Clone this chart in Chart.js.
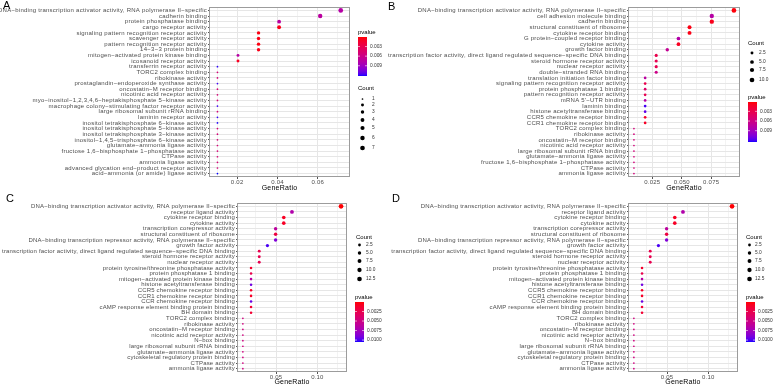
<!DOCTYPE html>
<html><head><meta charset="utf-8">
<script src="https://cdn.jsdelivr.net/npm/chart.js@4.4.0/dist/chart.umd.min.js"></script>
<style>
html,body{margin:0;padding:0;background:#fff;}
body{width:774px;height:386px;overflow:hidden;position:relative;font-family:"Liberation Sans",Arial,sans-serif;}
canvas{position:absolute;}
.letter{position:absolute;font-size:11px;line-height:11px;color:#000;}
</style></head>
<body>
<canvas id="cA" width="387" height="193" style="left:0;top:0"></canvas>
<canvas id="cB" width="387" height="193" style="left:387px;top:0"></canvas>
<canvas id="cC" width="387" height="193" style="left:0;top:193px"></canvas>
<canvas id="cD" width="387" height="193" style="left:387px;top:193px"></canvas>
<div class="letter" style="left:3px;top:0px">A</div>
<div class="letter" style="left:388px;top:1px">B</div>
<div class="letter" style="left:6px;top:193px">C</div>
<div class="letter" style="left:392px;top:193px">D</div>
<script>
// ---------------- DATA ----------------
const termsA = [
"DNA−binding transcription activator activity, RNA polymerase II−specific",
"cadherin binding","protein phosphatase binding","cargo receptor activity",
"signaling pattern recognition receptor activity","scavenger receptor activity",
"pattern recognition receptor activity","14−3−3 protein binding",
"mitogen−activated protein kinase binding","icosanoid receptor activity",
"transferrin receptor activity","TORC2 complex binding","ribokinase activity",
"prostaglandin−endoperoxide synthase activity","oncostatin−M receptor binding",
"nicotinic acid receptor activity","myo−inositol−1,2,3,4,6−heptakisphosphate 5−kinase activity",
"macrophage colony−stimulating factor receptor activity","large ribosomal subunit rRNA binding",
"laminin receptor activity","inositol tetrakisphosphate 6−kinase activity",
"inositol tetrakisphosphate 5−kinase activity","inositol tetrakisphosphate 3−kinase activity",
"inositol−1,4,5−trisphosphate 6−kinase activity","glutamate−ammonia ligase activity",
"fructose 1,6−bisphosphate 1−phosphatase activity","CTPase activity","ammonia ligase activity",
"advanced glycation end−product receptor activity","acid−ammonia (or amide) ligase activity"];
const countsA = [7,6,4,4,3,3,3,3,2,2,1,1,1,1,1,1,1,1,1,1,1,1,1,1,1,1,1,1,1,1];
const ratiosA = [0.0714,0.0612,0.0408,0.0408,0.0306,0.0306,0.0306,0.0306,0.0204,0.0204,
0.0102,0.0102,0.0102,0.0102,0.0102,0.0102,0.0102,0.0102,0.0102,0.0102,
0.0102,0.0102,0.0102,0.0102,0.0102,0.0102,0.0102,0.0102,0.0102,0.0102];
const pvalsA = [0.0076,0.0073,0.0074,0.0006,0.0004,0.0005,0.0004,0.0006,0.0075,0.0009,
0.0120,0.0051,0.0051,0.0118,0.0051,0.0051,0.0052,0.0118,0.0051,0.0119,
0.0121,0.0052,0.0052,0.0052,0.0051,0.0051,0.0051,0.0051,0.0052,0.0122];
const xMajorA = [0.02,0.04,0.06], xLabelsA = ["0.02","0.04","0.06"], xMinorA = [0.01,0.03,0.05,0.07];
const countBreaksA = [1,2,3,4,5,6,7], countLabelsA = ["1","2","3","4","5","6","7"];
const pBreaksA = [0.003,0.006,0.009], pLabelsA = ["0.003","0.006","0.009"];

const termsB = [
"DNA−binding transcription activator activity, RNA polymerase II−specific",
"cell adhesion molecule binding","cadherin binding","structural constituent of ribosome",
"cytokine receptor binding","G protein−coupled receptor binding","cytokine activity",
"growth factor binding","transcription factor activity, direct ligand regulated sequence−specific DNA binding",
"steroid hormone receptor activity","nuclear receptor activity","double−stranded RNA binding",
"translation initiation factor binding","signaling pattern recognition receptor activity",
"protein phosphatase 1 binding","pattern recognition receptor activity","mRNA 5'−UTR binding",
"laminin binding","histone acetyltransferase binding","CCR5 chemokine receptor binding",
"CCR1 chemokine receptor binding","TORC2 complex binding","ribokinase activity",
"oncostatin−M receptor binding","nicotinic acid receptor activity","large ribosomal subunit rRNA binding",
"glutamate−ammonia ligase activity","fructose 1,6−bisphosphate 1−phosphatase activity",
"CTPase activity","ammonia ligase activity"];
const countsB = [10,8,8,6,6,5,5,4,3,3,3,3,2,2,2,2,2,2,2,2,2,1,1,1,1,1,1,1,1,1];
const ratiosB = [0.0943,0.0755,0.0755,0.0566,0.0566,0.0472,0.0472,0.0377,0.0283,0.0283,0.0283,0.0283,
0.0189,0.0189,0.0189,0.0189,0.0189,0.0189,0.0189,0.0189,0.0189,
0.0094,0.0094,0.0094,0.0094,0.0094,0.0094,0.0094,0.0094,0.0094];
const pvalsB = [0.0003,0.0078,0.0008,0.0005,0.0006,0.0080,0.0010,0.0068,0.0030,0.0032,0.0032,0.0062,
0.0075,0.0030,0.0045,0.0032,0.0078,0.0120,0.0115,0.0012,0.0012,
0.0055,0.0055,0.0055,0.0055,0.0055,0.0055,0.0055,0.0055,0.0055];
const xMajorB = [0.025,0.05,0.075], xLabelsB = ["0.025","0.050","0.075"], xMinorB = [0.0125,0.0375,0.0625,0.0875];
const countBreaksB = [2.5,5,7.5,10], countLabelsB = ["2.5","5.0","7.5","10.0"];
const pBreaksB = [0.003,0.006,0.009], pLabelsB = ["0.003","0.006","0.009"];

const termsC = [
"DNA−binding transcription activator activity, RNA polymerase II−specific",
"receptor ligand activity","cytokine receptor binding","cytokine activity",
"transcription corepressor activity","structural constituent of ribosome",
"DNA−binding transcription repressor activity, RNA polymerase II−specific","growth factor activity",
"transcription factor activity, direct ligand regulated sequence−specific DNA binding",
"steroid hormone receptor activity","nuclear receptor activity",
"protein tyrosine/threonine phosphatase activity","protein phosphatase 1 binding",
"mitogen−activated protein kinase binding","histone acetyltransferase binding",
"CCR5 chemokine receptor binding","CCR1 chemokine receptor binding","CCR chemokine receptor binding",
"cAMP response element binding protein binding","BH domain binding","TORC2 complex binding",
"ribokinase activity","oncostatin−M receptor binding","nicotinic acid receptor activity","N−box binding",
"large ribosomal subunit rRNA binding","glutamate−ammonia ligase activity",
"cytoskeletal regulatory protein binding","CTPase activity","ammonia ligase activity"];
const countsC = [13,7,6,6,5,5,5,4,3,3,3,2,2,2,2,2,2,2,2,2,1,1,1,1,1,1,1,1,1,1];
const ratiosC = [0.1287,0.0693,0.0594,0.0594,0.0495,0.0495,0.0495,0.0396,0.0297,0.0297,0.0297,
0.0198,0.0198,0.0198,0.0198,0.0198,0.0198,0.0198,0.0198,0.0198,
0.0099,0.0099,0.0099,0.0099,0.0099,0.0099,0.0099,0.0099,0.0099,0.0099];
const pvalsC = [0.0001,0.0068,0.0008,0.0009,0.0062,0.0020,0.0088,0.0100,0.0025,0.0026,0.0026,
0.0012,0.0024,0.0065,0.0092,0.0010,0.0010,0.0094,0.0014,0.0014,
0.0048,0.0048,0.0048,0.0048,0.0048,0.0048,0.0048,0.0048,0.0048,0.0048];
const xMajorC = [0.05,0.10], xLabelsC = ["0.05","0.10"], xMinorC = [0.025,0.075,0.125];
const countBreaksC = [2.5,5,7.5,10,12.5], countLabelsC = ["2.5","5.0","7.5","10.0","12.5"];
const pBreaksC = [0.0025,0.005,0.0075,0.01], pLabelsC = ["0.0025","0.0050","0.0075","0.0100"];

// ---------------- COLOUR (Lab interpolation red -> blue) ----------------
function toLin(c){c/=255;return c<=0.04045?c/12.92:Math.pow((c+0.055)/1.055,2.4);}
function toSrgb(c){c=c<=0.0031308?12.92*c:1.055*Math.pow(c,1/2.4)-0.055;return Math.round(Math.max(0,Math.min(1,c))*255);}
function rgb2lab(r,g,b){r=toLin(r);g=toLin(g);b=toLin(b);
 let X=(0.4124*r+0.3576*g+0.1805*b)/0.95047,Y=0.2126*r+0.7152*g+0.0722*b,Z=(0.0193*r+0.1192*g+0.9505*b)/1.08883;
 const f=t=>t>0.008856?Math.cbrt(t):7.787*t+16/116;const fx=f(X),fy=f(Y),fz=f(Z);
 return [116*fy-16,500*(fx-fy),200*(fy-fz)];}
function lab2rgb(L,a,b){const fy=(L+16)/116,fx=fy+a/500,fz=fy-b/200;
 const fi=t=>t*t*t>0.008856?t*t*t:(t-16/116)/7.787;
 const X=fi(fx)*0.95047,Y=fi(fy),Z=fi(fz)*1.08883;
 return [toSrgb(3.2406*X-1.5372*Y-0.4986*Z),toSrgb(-0.9689*X+1.8758*Y+0.0415*Z),toSrgb(0.0557*X-0.2040*Y+1.0570*Z)];}
const LAB_LO=rgb2lab(255,0,0), LAB_HI=rgb2lab(0,0,255);
function colT(t){t=Math.max(0,Math.min(1,t));const l=LAB_LO.map((v,i)=>v+(LAB_HI[i]-v)*t);const c=lab2rgb(...l);return `rgb(${c[0]},${c[1]},${c[2]})`;}

// size: ggplot area palette range 1..6
function makeRadius(cmin,cmax){return c=>{const s=1+5*Math.sqrt(Math.max(0,(c-cmin)/(cmax-cmin)));return 0.55+0.3*s;};}

const FONT="'Liberation Sans', Arial, sans-serif";
const near=(a,b)=>Math.abs(a-b)<1e-9;

function panel(id, d, L){
  const radius=makeRadius(Math.min(...d.counts),Math.max(...d.counts));
  const pc=p=>colT((p-d.plim[0])/(d.plim[1]-d.plim[0]));
  const pts=d.terms.map((t,i)=>({x:d.ratios[i],y:i,r:radius(d.counts[i])}));
  const W=387,H=193,n=d.terms.length;
  const allX=[...d.xMajor,...d.xMinor].sort((a,b)=>a-b);
  const isMaj=v=>d.xMajor.some(m=>near(m,v));
  const gg={id:'gg'+id,
   beforeDraw(chart){chart.ctx.letterSpacing=L.ls+'px';},
   afterDraw(chart){
    const ctx=chart.ctx,a=chart.chartArea;ctx.save();
    ctx.strokeStyle='#9c9c9c';ctx.lineWidth=1;
    ctx.strokeRect(Math.round(a.left)-0.5,Math.round(a.top)+0.5,Math.round(a.right-a.left)+1,Math.round(a.bottom-a.top)-1);
    ctx.textBaseline='middle';ctx.textAlign='left';ctx.letterSpacing='0px';
    // count legend
    ctx.fillStyle='#000';ctx.font='6px '+FONT;ctx.fillText('Count',L.cx,L.cty);
    ctx.font='4.8px '+FONT;
    d.countBreaks.forEach((c,i)=>{const y=L.cys[i];ctx.fillStyle='#000';ctx.beginPath();ctx.arc(L.dotx,y,radius(c),0,Math.PI*2);ctx.fill();ctx.fillStyle='#333';ctx.fillText(d.countLabels[i],L.clx,y);});
    // pvalue colourbar
    ctx.fillStyle='#000';ctx.font='6px '+FONT;ctx.fillText('pvalue',L.px,L.pty);
    const bh=L.bb-L.bt;
    for(let k=0;k<bh;k++){ctx.fillStyle=colT((k+0.5)/bh);ctx.fillRect(L.px,L.bt+k,L.bw,1);}
    ctx.font='4.8px '+FONT;
    d.pBreaks.forEach((p,i)=>{const y=L.bt+(p-d.plim[0])/(d.plim[1]-d.plim[0])*bh;
      ctx.strokeStyle='#fff';ctx.lineWidth=0.6;ctx.beginPath();ctx.moveTo(L.px,y);ctx.lineTo(L.px+2,y);ctx.moveTo(L.px+L.bw-2,y);ctx.lineTo(L.px+L.bw,y);ctx.stroke();
      ctx.fillStyle='#333';ctx.fillText(d.pLabels[i],L.plx,y);});
    ctx.restore();}};
  new Chart(document.getElementById(id),{
    type:'bubble',
    data:{datasets:[{data:pts,backgroundColor:d.pvals.map(pc),borderWidth:0,hoverRadius:0}]},
    options:{responsive:false,animation:false,devicePixelRatio:1,events:[],
      layout:{padding:{left:0,top:L.top,right:W-L.right,bottom:0}},
      plugins:{legend:{display:false},tooltip:{enabled:false}},
      scales:{
        x:{type:'linear',min:d.xlim[0],max:d.xlim[1],
          afterBuildTicks:s=>{s.ticks=allX.map(v=>({value:v}));},
          afterFit:s=>{s.height=H-L.bottom;},
          ticks:{autoSkip:false,maxRotation:0,padding:0,color:'#4d4d4d',font:{family:FONT,size:6},
            callback:v=>{const i=d.xMajor.findIndex(m=>near(m,v));return i>=0?d.xLabels[i]:'';}},
          grid:{color:c=>(c.tick&&isMaj(c.tick.value))?'#e6e6e6':'#f3f3f3',lineWidth:1,tickLength:2,
            tickColor:c=>(c.tick&&isMaj(c.tick.value))?'#555':'rgba(0,0,0,0)'},
          border:{display:false},
          title:{display:true,text:'GeneRatio',color:'#000',font:{family:FONT,size:7},padding:{top:0,bottom:L.tpad}}},
        y:{type:'linear',reverse:true,min:-0.6,max:n-0.4,
          afterBuildTicks:s=>{s.ticks=d.terms.map((t,i)=>({value:i}));},
          afterFit:s=>{s.width=L.left;},
          ticks:{autoSkip:false,padding:1,color:'#4d4d4d',font:{family:FONT,size:6},callback:v=>d.terms[v]},
          grid:{color:'#e6e6e6',lineWidth:1,tickLength:2,tickColor:'#555'},
          border:{display:false}}
      }},
    plugins:[gg]});
}

panel('cA',{terms:termsA,counts:countsA,ratios:ratiosA,pvals:pvalsA,xMajor:xMajorA,xLabels:xLabelsA,xMinor:xMinorA,
  xlim:[0.0065,0.0755],plim:[0.00002,0.0122],countBreaks:countBreaksA,countLabels:countLabelsA,pBreaks:pBreaksA,pLabels:pLabelsA},
  {ls:0.25,left:210,right:349,top:7,bottom:177,tpad:1,cx:358,cty:88,dotx:362.5,clx:372,cys:[99,105,112,120,128,138,148],px:358,pty:32,bt:37,bb:76,bw:9,plx:370});
panel('cB',{terms:termsB,counts:countsB,ratios:ratiosB,pvals:pvalsB,xMajor:xMajorB,xLabels:xLabelsB,xMinor:xMinorB,
  xlim:[0.0052,0.0986],plim:[0.0001,0.0125],countBreaks:countBreaksB,countLabels:countLabelsB,pBreaks:pBreaksB,pLabels:pLabelsB},
  {ls:0.24,left:242,right:352,top:7,bottom:177,tpad:1,cx:361,cty:43,dotx:365,clx:372,cys:[53,62,70,80],px:361,pty:97,bt:102,bb:142,bw:9,plx:373});
panel('cC',{terms:termsC,counts:countsC,ratios:ratiosC,pvals:pvalsC,xMajor:xMajorC,xLabels:xLabelsC,xMinor:xMinorC,
  xlim:[0.0040,0.1347],plim:[0.00001,0.0105],countBreaks:countBreaksC,countLabels:countLabelsC,pBreaks:pBreaksC,pLabels:pLabelsC},
  {ls:0.18,left:238,right:346,top:10,bottom:179,tpad:0,cx:356,cty:44,dotx:359.5,clx:366,cys:[52,60,68,77,86],px:355,pty:104,bt:109,bb:149,bw:9,plx:367});
panel('cD',{terms:termsC,counts:countsC,ratios:ratiosC,pvals:pvalsC,xMajor:xMajorC,xLabels:xLabelsC,xMinor:xMinorC,
  xlim:[0.0040,0.1347],plim:[0.00001,0.0105],countBreaks:countBreaksC,countLabels:countLabelsC,pBreaks:pBreaksC,pLabels:pLabelsC},
  {ls:0.2,left:242,right:350,top:10,bottom:179,tpad:0,cx:359,cty:44,dotx:362.5,clx:368,cys:[52,60,68,77,86],px:359,pty:104,bt:109,bb:149,bw:9,plx:371});
</script>
</body></html>
